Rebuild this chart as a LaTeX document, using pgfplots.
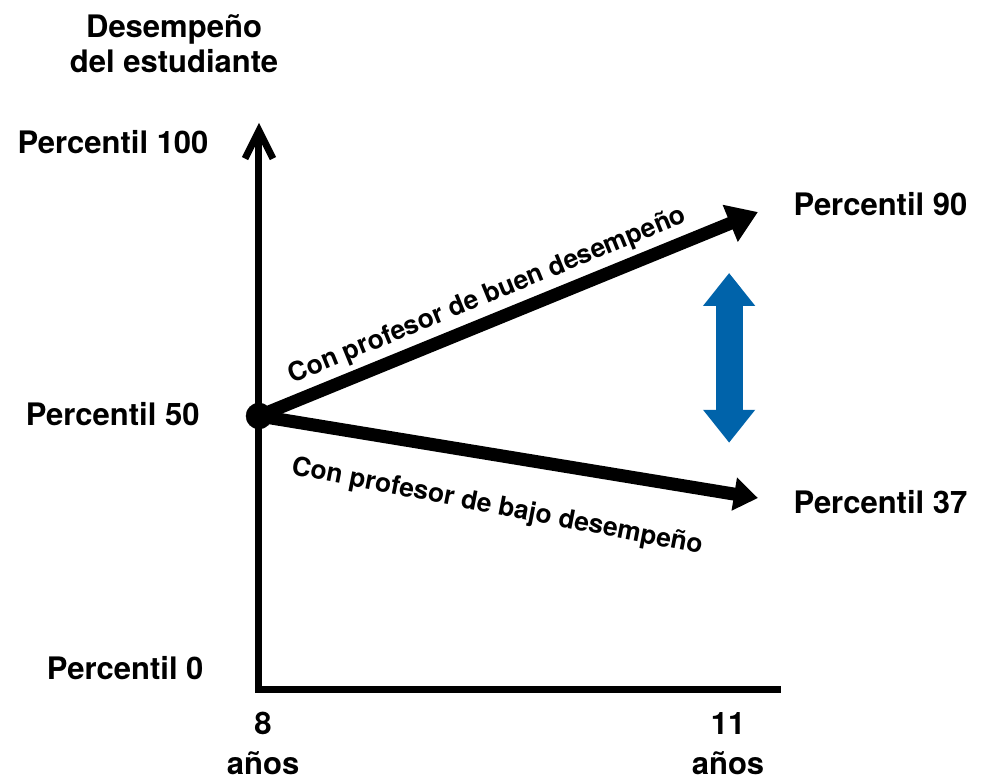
\documentclass[border=0pt]{standalone}
\usepackage{pgfplots}
\pgfplotsset{compat=1.18}
\usetikzlibrary{arrows.meta}
\usepackage{fontspec}
\setmainfont{TeX Gyre Heros}

\definecolor{arrowblue}{RGB}{0,99,170}
\newcommand\lab{\fontsize{31bp}{35bp}\selectfont\bfseries}
\newcommand\slab{\fontsize{26.3bp}{29bp}\selectfont\bfseries}

\begin{document}
\begin{tikzpicture}
\begin{axis}[
    scale only axis,
    width=518.7bp, height=566.2bp,
    xmin=8, xmax=11.31,
    ymin=0, ymax=103.7,
    axis lines=left,
    axis line style={line width=7bp},
    x axis line style={-, line cap=rect},
    y axis line style={-{Straight Barb[length=28bp, width=28bp]}},
    xtick=\empty, ytick=\empty,
    clip=false,
    every node/.append style={inner sep=0pt, text=black},
]

% student paths
\addplot[line width=13bp, -{Triangle[length=30bp, width=38bp]}]
    coordinates {(8,50) (11.184,87.36)}
    node[pos=0.477, sloped, above=2bp, font=\slab] {Con profesor de buen desempeño};
\addplot[line width=13bp, -{Triangle[length=24bp, width=32bp]}]
    coordinates {(8,50) (11.184,34.98)}
    node[pos=0.497, sloped, rotate=-1.7, below=29bp, font=\slab] {Con profesor de bajo desempeño};
\addplot[only marks, mark=*, mark size=13bp, black] coordinates {(8,50)};

% gap arrow
\addplot[line width=27bp, arrowblue,
    {Triangle[length=33bp, width=50bp]}-{Triangle[length=33bp, width=50bp]}]
    coordinates {(11,45.1) (11,76.2)};

\path (axis cs:8,0) coordinate (O);

% labels
\node[anchor=base, font=\lab] at (axis cs:7.458,119.4) {Desempeño};
\node[anchor=base, font=\lab] at (axis cs:7.458,113.0) {del estudiante};

\node[anchor=base east, font=\lab] at (axis cs:7.700,98.0) {Percentil 100};
\node[anchor=base east, font=\lab] at (axis cs:7.643,48.17) {Percentil 50};
\node[anchor=base east, font=\lab] at (axis cs:7.668,1.83) {Percentil 0};

\node[anchor=base west, font=\lab] at (axis cs:11.389,86.63) {Percentil 90};
\node[anchor=base west, font=\lab] at (axis cs:11.389,32.23) {Percentil 37};

\node[anchor=base, font=\lab] at (axis cs:8.026,-8.42) {8};
\node[anchor=base, font=\lab] at (axis cs:8.026,-15.57) {años};
\node[anchor=base, font=\lab] at (axis cs:10.993,-8.42) {11};
\node[anchor=base, font=\lab] at (axis cs:10.993,-15.57) {años};
\end{axis}
\pgfresetboundingbox
\useasboundingbox ([xshift=-259bp,yshift=-92bp]O) rectangle ([xshift=737bp,yshift=689bp]O);
\end{tikzpicture}
\end{document}
